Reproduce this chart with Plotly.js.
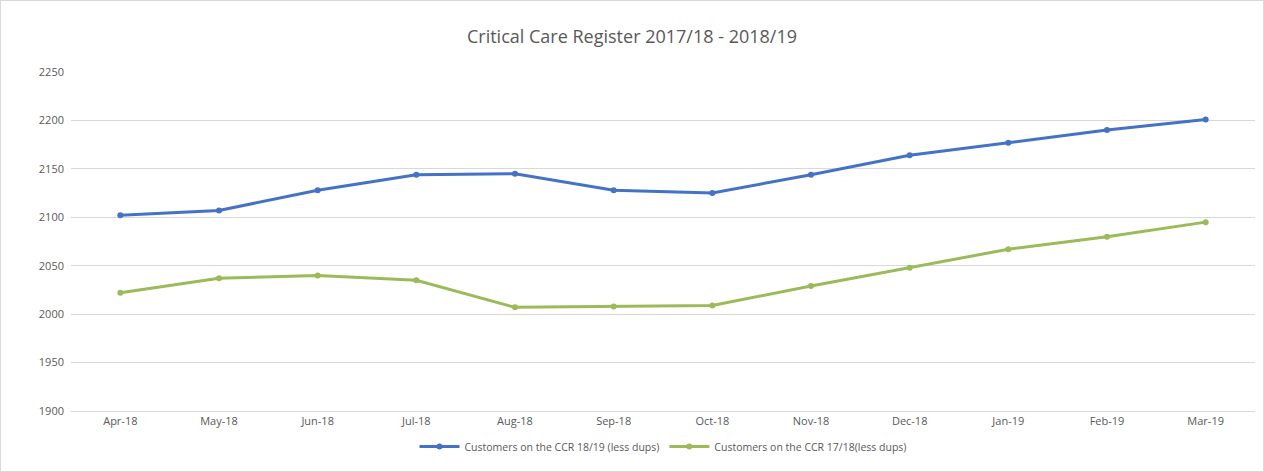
<!DOCTYPE html>
<html>
<head>
<meta charset="utf-8">
<script src="https://cdn.plot.ly/plotly-3.0.1.min.js"></script>
<style>
html,body{margin:0;padding:0;background:#fff;}
#chart{width:1262px;height:470px;border:1px solid #d9d9d9;}
</style>
</head>
<body>
<div id="chart"></div>
<script>
const months = ["Apr-18","May-18","Jun-18","Jul-18","Aug-18","Sep-18","Oct-18","Nov-18","Dec-18","Jan-19","Feb-19","Mar-19"];
const ccr1819 = [2102,2107,2128,2144,2145,2128,2125,2144,2164,2177,2190,2201];
const ccr1718 = [2022,2037,2040,2035,2007,2008,2009,2029,2048,2067,2080,2095];
const seriesNames = ["Customers on the CCR 18/19 (less dups)","Customers on the CCR 17/18(less dups)"];
const yTicks = [1900,1950,2000,2050,2100,2150,2200,2250];

const traces = [
  {x: months, y: ccr1819, name: seriesNames[0], type: "scatter", mode: "lines+markers",
   line: {color: "#4472C4", width: 3}, marker: {color: "#4472C4", size: 6}},
  {x: months, y: ccr1718, name: seriesNames[1], type: "scatter", mode: "lines+markers",
   line: {color: "#9BBB59", width: 3}, marker: {color: "#9BBB59", size: 6}}
];

const layout = {
  width: 1262, height: 470,
  margin: {l: 70, r: 8, t: 71, b: 60},
  paper_bgcolor: "#ffffff", plot_bgcolor: "#ffffff",
  font: {family: "Open Sans, Liberation Sans, sans-serif", color: "#595959"},
  title: {text: "Critical Care Register 2017/18 - 2018/19", x: 0.5, xanchor: "center", y: 0.925, yanchor: "middle",
          font: {size: 18, color: "#595959"}},
  xaxis: {type: "category", range: [-0.5, 11.5], showgrid: false, showline: true, linecolor: "#d9d9d9", linewidth: 1,
          ticks: "", tickfont: {size: 11, color: "#595959"}, fixedrange: true},
  yaxis: {range: [1900, 2250], tickvals: yTicks, showgrid: true, gridcolor: "#d9d9d9", gridwidth: 1,
          zeroline: false, showline: false, ticks: "", ticklabelstandoff: 6, tickfont: {size: 11, color: "#595959"}},
  legend: {orientation: "h", x: 0.5, xanchor: "center", y: -0.105, yanchor: "middle",
           font: {size: 10.5, color: "#595959"}, itemwidth: 40, tracegroupgap: 0},
  showlegend: true
};

Plotly.newPlot("chart", traces, layout, {displayModeBar: false, staticPlot: true});
</script>
</body>
</html>
